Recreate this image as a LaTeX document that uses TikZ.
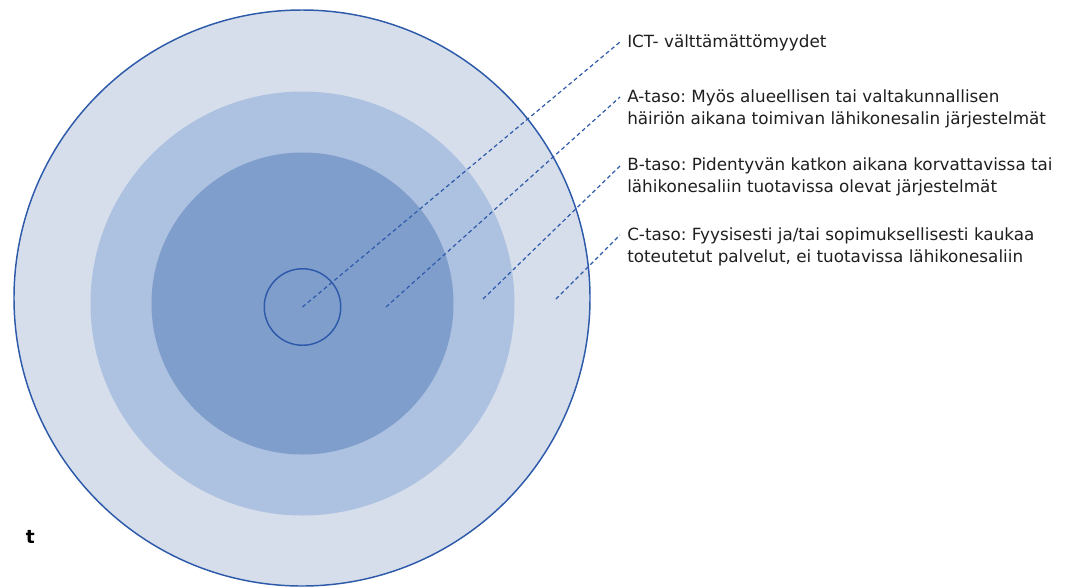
\documentclass[tikz,border=0pt]{standalone}
\usepackage{fontspec}
\setmainfont{DejaVu Sans}
\frenchspacing
\begin{document}
\begin{tikzpicture}[x=0.75pt,y=-0.75pt,
  ringline/.style={draw=strokeblue, line width=1.1pt},
  leader/.style={draw=strokeblue, line width=0.9pt, dash pattern=on 3pt off 2.2pt},
  lbl/.style={anchor=base west, inner sep=0pt, align=left,
    font=\fontsize{12.6pt}{16.5pt}\selectfont, text=black!88}]
\definecolor{strokeblue}{HTML}{2E5AAA}
\definecolor{ringC}{HTML}{D6DEEC}
\definecolor{ringB}{HTML}{ADC1E0}
\definecolor{ringA}{HTML}{7F9ECC}
\useasboundingbox (0,0) rectangle (1068,587);

% concentric levels
\fill[ringC] (302,298) circle[radius=288*0.75pt];
\draw[ringline] (302,298) circle[radius=288*0.75pt];
\fill[ringB] (302.5,303.5) circle[radius=212*0.75pt];
\fill[ringA] (302.5,303.5) circle[radius=151*0.75pt];
\node[circle, ringline, minimum size=76.5*0.75pt, inner sep=0pt] (core) at (302.5,307) {};

% leader start points inside the rings
\coordinate (sA) at (386,307);
\coordinate (sB) at (483,299);
\coordinate (sC) at (556,299);

% labels (base anchor sits on the last line)
\node[lbl] (lICT) at (627,47.5) {ICT- välttämättömyydet};
\node[lbl] (lA) at (627,124.5) {A-taso: Myös alueellisen tai valtakunnallisen\\häiriön aikana toimivan lähikonesalin järjestelmät};
\node[lbl] (lB) at (627,192.5) {B-taso: Pidentyvän katkon aikana korvattavissa tai\\lähikonesaliin tuotavissa olevat järjestelmät};
\node[lbl] (lC) at (627,262.5) {C-taso: Fyysisesti ja/tai sopimuksellisesti kaukaa\\toteutetut palvelut, ei tuotavissa lähikonesaliin};

% leader end points just left of the labels
\coordinate (eICT) at (620,42);
\coordinate (eA) at (620,97);
\coordinate (eB) at (620,166);
\coordinate (eC) at (620,235);

\draw[leader] (core.center) -- (eICT);
\draw[leader] (sA) -- (eA);
\draw[leader] (sB) -- (eB);
\draw[leader] (sC) -- (eC);

\node[anchor=base east, inner sep=0pt, font=\fontsize{14pt}{16pt}\selectfont\bfseries] (tfrag) at (35,543) {t};
\end{tikzpicture}
\end{document}
